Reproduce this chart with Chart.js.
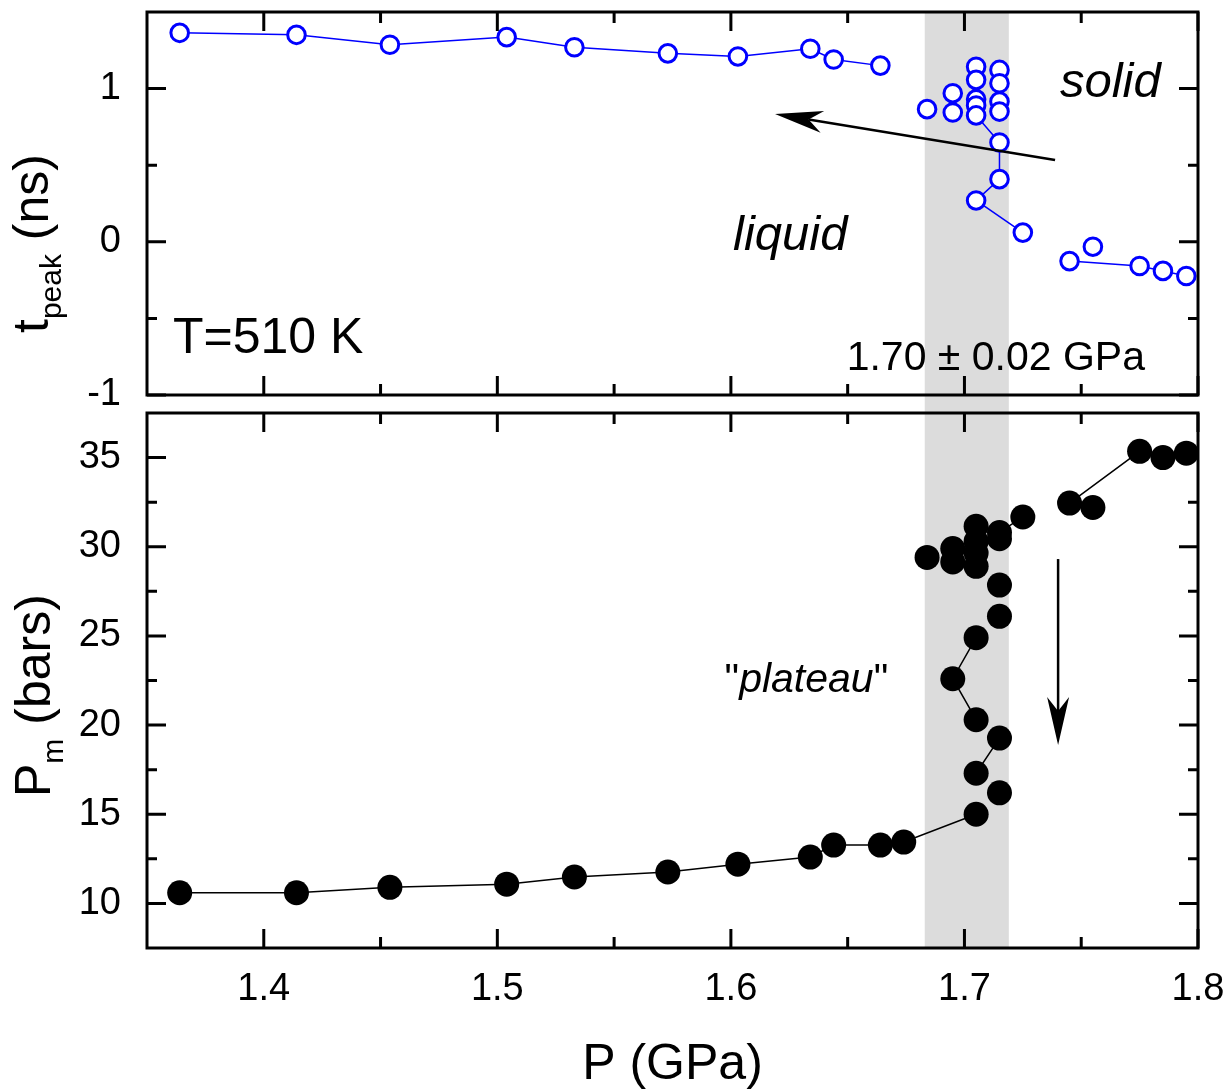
<!DOCTYPE html>
<html>
<head>
<meta charset="utf-8">
<script src="https://cdn.jsdelivr.net/npm/chart.js@4.4.1/dist/chart.umd.min.js"></script>
<style>
  html, body { margin: 0; padding: 0; background: #fff; overflow: hidden; }
  #wrap { position: relative; width: 1231px; height: 1092px; }
  #wrap canvas { position: absolute; left: 0; top: 0; }
</style>
</head>
<body>
<div id="wrap">
  <canvas id="topPanel" width="1231" height="1092"></canvas>
  <canvas id="bottomPanel" width="1231" height="1092"></canvas>
</div>
<script>
const FONT = '"Liberation Sans", Arial, Helvetica, sans-serif';
const W = 1231, H = 1092;
const LEFT = 147, RIGHT = 1198, TOP1 = 12, BOT1 = 395, TOP2 = 413, BOT2 = 948;

// top panel: t_peak (ns) vs P (GPa); null breaks the line
const pTop  = [1.364, 1.414, 1.454, 1.504, 1.533, 1.573, 1.603, 1.634, 1.644, 1.664, null,
               1.705, 1.715, 1.715, 1.705, 1.725, null,
               1.745, 1.775, 1.785, 1.795];
const tPeak = [1.364, 1.351, 1.286, 1.336, 1.27, 1.23, 1.21, 1.26, 1.19, 1.15, null,
               0.825, 0.648, 0.409, 0.27, 0.06, null,
               -0.126, -0.158, -0.19, -0.223];
// points not joined by a line
const pTopLone  = [1.684, 1.695, 1.695, 1.705, 1.705, 1.705, 1.705, 1.715, 1.715, 1.715, 1.715, 1.755];
const tPeakLone = [0.866, 0.97, 0.844, 1.143, 1.057, 0.93, 0.89, 1.122, 1.035, 0.915, 0.85, -0.032];

// bottom panel: P_m (bars) vs P (GPa)
const pBot  = [1.364, 1.414, 1.454, 1.504, 1.533, 1.573, 1.603, 1.634, 1.644, 1.664, 1.674, 1.705, null,
               1.705, 1.715, null,
               1.705, 1.695, 1.705, null,
               1.715, 1.725, null,
               1.745, 1.775, 1.785, 1.795];
const pmBot = [10.6, 10.6, 10.9, 11.08, 11.48, 11.76, 12.2, 12.6, 13.27, 13.27, 13.44, 15.0, null,
               17.3, 19.27, null,
               20.3, 22.6, 24.9, null,
               30.8, 31.67, null,
               32.45, 35.35, 35.0, 35.25];
const pBotLone  = [1.684, 1.695, 1.695, 1.705, 1.705, 1.705, 1.705, 1.715, 1.715, 1.715, 1.715, 1.755];
const pmBotLone = [29.4, 29.9, 29.15, 31.15, 30.3, 29.65, 28.9, 30.45, 27.85, 26.1, 16.2, 32.2];

// axes
const pTicks  = [1.4, 1.5, 1.6, 1.7, 1.8];
const pMinor  = [1.45, 1.55, 1.65, 1.75];
const tTicks  = [-1, 0, 1];
const tMinor  = [-0.5, 0.5];
const pmTicks = [10, 15, 20, 25, 30, 35];
const pmMinor = [12.5, 17.5, 22.5, 27.5, 32.5];
const band = [1.683, 1.719];   // 1.70 +- 0.02 GPa

const pts = (xs, ys) => xs.map((x, i) => ({ x: x, y: ys[i] }));

function drawArrow(ctx, x1, y1, x2, y2) {
  const len = Math.hypot(x2 - x1, y2 - y1);
  const ux = (x2 - x1) / len, uy = (y2 - y1) / len;
  const nx = -uy, ny = ux;
  const head = 48, half = 11, notch = 34;
  ctx.beginPath();
  ctx.moveTo(x1, y1);
  ctx.lineTo(x2 - ux * notch, y2 - uy * notch);
  ctx.stroke();
  ctx.beginPath();
  ctx.moveTo(x2, y2);
  ctx.lineTo(x2 - ux * head + nx * half, y2 - uy * head + ny * half);
  ctx.lineTo(x2 - ux * notch, y2 - uy * notch);
  ctx.lineTo(x2 - ux * head - nx * half, y2 - uy * head - ny * half);
  ctx.closePath();
  ctx.fill();
}

function panelFrame(xMajor, xMinor, yMajor, yMinor) {
  return {
    id: 'panelFrame',
    afterDatasetsDraw(chart) {
      const { ctx, chartArea: a } = chart;
      const xs = chart.scales.x, ys = chart.scales.y;
      ctx.save();
      ctx.strokeStyle = '#000';
      ctx.lineWidth = 3;
      ctx.beginPath();
      const xt = (vals, l) => vals.forEach(v => {
        const px = xs.getPixelForValue(v);
        ctx.moveTo(px, a.bottom); ctx.lineTo(px, a.bottom - l);
        ctx.moveTo(px, a.top); ctx.lineTo(px, a.top + l);
      });
      const yt = (vals, l) => vals.forEach(v => {
        const py = ys.getPixelForValue(v);
        ctx.moveTo(a.left, py); ctx.lineTo(a.left + l, py);
        ctx.moveTo(a.right, py); ctx.lineTo(a.right - l, py);
      });
      xt(xMajor, 19); xt(xMinor, 11);
      yt(yMajor, 19); yt(yMinor, 10);
      ctx.stroke();
      ctx.strokeRect(a.left, a.top, a.right - a.left, a.bottom - a.top);
      ctx.restore();
    }
  };
}

function yTitle(x, y, parts) {
  return {
    id: 'yTitle',
    afterDraw(chart) {
      const ctx = chart.ctx;
      ctx.save();
      ctx.translate(x, y);
      ctx.rotate(-Math.PI / 2);
      ctx.fillStyle = '#000';
      ctx.textBaseline = 'alphabetic';
      let cx = 0;
      parts.forEach(p => {
        ctx.font = p.size + 'px ' + FONT;
        ctx.fillText(p.text, cx, p.dy);
        cx += ctx.measureText(p.text).width;
      });
      ctx.restore();
    }
  };
}

const bandPlugin = {
  id: 'band',
  beforeDatasetsDraw(chart) {
    const { ctx } = chart;
    const xs = chart.scales.x;
    const x1 = xs.getPixelForValue(band[0]), x2 = xs.getPixelForValue(band[1]);
    ctx.save();
    ctx.fillStyle = '#dcdcdc';
    ctx.fillRect(x1, TOP1, x2 - x1, BOT2 - TOP1);
    ctx.restore();
  }
};

const topNotes = {
  id: 'topNotes',
  afterDraw(chart) {
    const { ctx } = chart;
    const X = v => chart.scales.x.getPixelForValue(v);
    const Y = v => chart.scales.y.getPixelForValue(v);
    ctx.save();
    ctx.fillStyle = '#000';
    ctx.textBaseline = 'alphabetic';
    ctx.textAlign = 'left';
    ctx.font = 'italic 49px ' + FONT;
    ctx.fillText('solid', X(1.7409), Y(0.945));
    ctx.fillText('liquid', X(1.6009), Y(-0.054));
    ctx.font = '50px ' + FONT;
    ctx.fillText('T=510 K', X(1.3611), Y(-0.726));
    ctx.font = '41px ' + FONT;
    ctx.textAlign = 'right';
    ctx.fillText('1.70 \u00b1 0.02 GPa', X(1.7773), Y(-0.837));
    ctx.strokeStyle = '#000';
    ctx.lineWidth = 2.5;
    drawArrow(ctx, X(1.7388), Y(0.534), X(1.6189), Y(0.834));
    ctx.restore();
  }
};

const bottomNotes = {
  id: 'bottomNotes',
  afterDraw(chart) {
    const { ctx } = chart;
    const X = v => chart.scales.x.getPixelForValue(v);
    const Y = v => chart.scales.y.getPixelForValue(v);
    ctx.save();
    ctx.fillStyle = '#000';
    ctx.textBaseline = 'alphabetic';
    let cx = X(1.5973);
    const by = Y(21.855);
    [['"', ''], ['plateau', 'italic '], ['"', '']].forEach(([s, st]) => {
      ctx.font = st + '41px ' + FONT;
      ctx.fillText(s, cx, by);
      cx += ctx.measureText(s).width;
    });
    ctx.strokeStyle = '#000';
    ctx.lineWidth = 2.5;
    drawArrow(ctx, X(1.7401), Y(29.31), X(1.7401), Y(18.88));
    ctx.restore();
  }
};

// fixed axis boxes so both panels line up exactly
const fixX = h => s => { s.height = h; s.paddingLeft = 0; s.paddingRight = 0; s.paddingTop = 0; s.paddingBottom = 0; };
const fixY = w => s => { s.width = w; s.paddingLeft = 0; s.paddingRight = 0; s.paddingTop = 0; s.paddingBottom = 0; };

const tickFont = { family: FONT, size: 38, lineHeight: 1 };
const common = {
  responsive: false,
  animation: false,
  devicePixelRatio: 1,
  events: [],
  plugins: { legend: { display: false }, tooltip: { enabled: false } }
};

new Chart(document.getElementById('topPanel'), {
  type: 'scatter',
  data: {
    datasets: [
      {
        data: pts(pTop, tPeak),
        showLine: true,
        spanGaps: false,
        borderColor: '#0000ff',
        borderWidth: 1.5,
        pointRadius: 8.8,
        pointBorderWidth: 3,
        pointBorderColor: '#0000ff',
        pointBackgroundColor: '#ffffff'
      },
      {
        data: pts(pTopLone, tPeakLone),
        showLine: false,
        pointRadius: 8.8,
        pointBorderWidth: 3,
        pointBorderColor: '#0000ff',
        pointBackgroundColor: '#ffffff'
      }
    ]
  },
  options: {
    ...common,
    layout: { padding: { left: 0, right: W - RIGHT, top: TOP1, bottom: H - BOT1 } },
    scales: {
      x: {
        type: 'linear', min: 1.35, max: 1.8,
        ticks: { display: false },
        grid: { display: false, drawTicks: false },
        border: { display: false },
        afterFit: fixX(0)
      },
      y: {
        min: -1, max: 1.5,
        afterBuildTicks: s => { s.ticks = tTicks.map(v => ({ value: v })); },
        afterFit: fixY(LEFT),
        ticks: { font: tickFont, color: '#000', padding: 26, callback: v => String(v) },
        grid: { display: false, drawTicks: false },
        border: { display: false }
      }
    }
  },
  plugins: [bandPlugin, panelFrame(pTicks, pMinor, tTicks, tMinor), topNotes,
    yTitle(48, 333, [
      { text: 't', size: 50, dy: 0 },
      { text: 'peak', size: 30, dy: 13 },
      { text: ' (ns)', size: 50, dy: 0 }
    ])]
});

new Chart(document.getElementById('bottomPanel'), {
  type: 'scatter',
  data: {
    datasets: [
      {
        data: pts(pBot, pmBot),
        showLine: true,
        spanGaps: false,
        borderColor: '#000000',
        borderWidth: 1.5,
        pointRadius: 12.5,
        pointBorderWidth: 0,
        pointBackgroundColor: '#000000'
      },
      {
        data: pts(pBotLone, pmBotLone),
        showLine: false,
        pointRadius: 12.5,
        pointBorderWidth: 0,
        pointBackgroundColor: '#000000'
      }
    ]
  },
  options: {
    ...common,
    layout: { padding: { left: 0, right: W - RIGHT, top: TOP2, bottom: 0 } },
    scales: {
      x: {
        type: 'linear', min: 1.35, max: 1.8,
        afterBuildTicks: s => { s.ticks = pTicks.map(v => ({ value: v })); },
        afterFit: fixX(H - BOT2),
        ticks: { font: tickFont, color: '#000', padding: 23, autoSkip: false, maxRotation: 0,
                 callback: v => v.toFixed(1) },
        grid: { display: false, drawTicks: false },
        border: { display: false },
        title: { display: true, text: 'P (GPa)', color: '#000',
                 font: { family: FONT, size: 50, lineHeight: 1 }, padding: { top: 0, bottom: 2 } }
      },
      y: {
        min: 7.5, max: 37.5,
        afterBuildTicks: s => { s.ticks = pmTicks.map(v => ({ value: v })); },
        afterFit: fixY(LEFT),
        ticks: { font: tickFont, color: '#000', padding: 26 },
        grid: { display: false, drawTicks: false },
        border: { display: false }
      }
    }
  },
  plugins: [panelFrame(pTicks, pMinor, pmTicks, pmMinor), bottomNotes,
    yTitle(50, 797, [
      { text: 'P', size: 50, dy: 0 },
      { text: 'm', size: 30, dy: 13 },
      { text: ' (bars)', size: 50, dy: 0 }
    ])]
});
</script>
</body>
</html>
